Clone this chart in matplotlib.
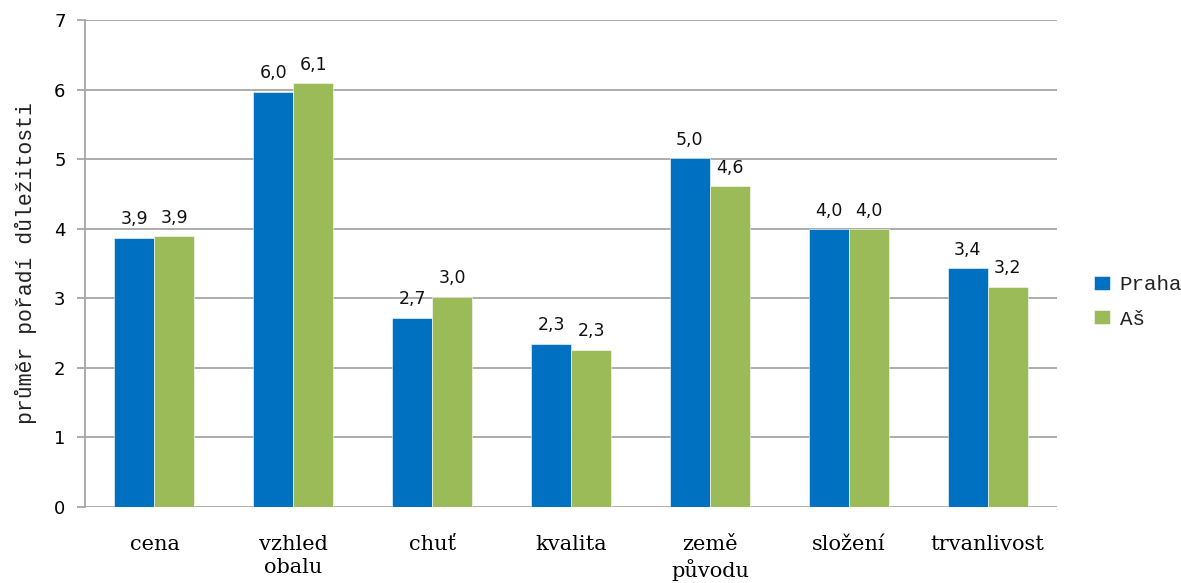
import matplotlib
matplotlib.use("Agg")
import matplotlib.pyplot as plt
import numpy as np

categories = ["cena", "vzhled\nobalu", "chuť", "kvalita", "země\npůvodu", "složení", "trvanlivost"]
series_names = ["Praha", "Aš"]
praha = [3.87, 5.97, 2.72, 2.34, 5.01, 3.99, 3.43]
as_vals = [3.89, 6.09, 3.02, 2.26, 4.61, 3.99, 3.16]
yticks = [0, 1, 2, 3, 4, 5, 6, 7]
colors = ["#0070C0", "#9BBB59"]

fig = plt.figure(figsize=(11.81, 5.83), dpi=100)
ax = fig.add_axes([0.072, 0.1304, 0.823, 0.8353])

x = np.arange(len(categories))
w = 0.288
grid_c = "#A6A6A6"

ax.set_xlim(-0.5, len(categories) - 0.5)
ax.set_ylim(0, 7)
ax.set_yticks(yticks)
ax.yaxis.grid(True, color=grid_c, linewidth=1.3)
ax.set_axisbelow(True)

for i, (vals, name) in enumerate(zip([praha, as_vals], series_names)):
    pos = x + (i - 0.5) * w
    bars = ax.bar(pos, vals, width=w, color=colors[i], label=name,
                  edgecolor="white", linewidth=0.4, zorder=3)
    for b, v in zip(bars, vals):
        ax.text(b.get_x() + b.get_width() / 2, v + 0.14,
                f"{v:.1f}".replace(".", ","), ha="center", va="bottom",
                fontsize=12.5, family="DejaVu Sans", color="#111111")

for s in ["top", "right", "bottom"]:
    ax.spines[s].set_visible(False)
ax.spines["left"].set_color(grid_c)
ax.spines["left"].set_linewidth(1.3)

ax.tick_params(axis="y", length=6, width=1.3, color=grid_c, labelsize=13, pad=8)
ax.tick_params(axis="x", length=0, pad=20)
ax.set_xticks(x)
ax.set_xticklabels(categories, family="DejaVu Serif", fontsize=15, linespacing=1.3, va="top")
for lbl in ax.get_yticklabels():
    lbl.set_family("DejaVu Sans")

ax.set_ylabel("průměr pořadí důležitosti", family="Liberation Mono", fontsize=15.5,
              labelpad=12, color="#222222")

leg = ax.legend(loc="center left", bbox_to_anchor=(1.027, 0.421), frameon=False,
                prop={"family": "Liberation Mono", "size": 15}, handlelength=0.8,
                handleheight=0.65, handletextpad=0.45, labelspacing=0.75, borderpad=0.0)
for t in leg.get_texts():
    t.set_color("#222222")

fig.savefig("out.png", dpi=100)
